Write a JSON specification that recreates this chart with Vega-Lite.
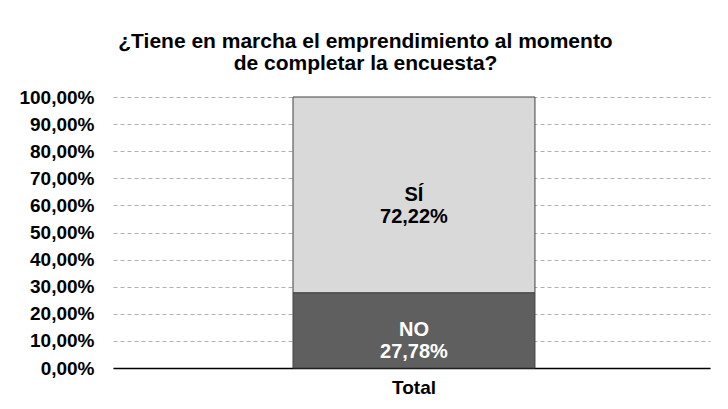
{
  "$schema": "https://vega.github.io/schema/vega-lite/v6.json",
  "width": 597,
  "height": 271,
  "autosize": {"type": "none"},
  "padding": {"left": 113, "top": 97, "right": 18, "bottom": 41},
  "background": "white",
  "title": {
    "text": ["¿Tiene en marcha el emprendimiento al momento", "de completar la encuesta?"],
    "font": "Liberation Sans",
    "fontSize": 21,
    "fontWeight": "bold",
    "color": "#000000",
    "lineHeight": 22,
    "anchor": "middle",
    "dx": -46,
    "offset": 14
  },
  "data": {
    "values": [
      {"x": "Total", "cat": "NO", "value": 0.2778},
      {"x": "Total", "cat": "SÍ", "value": 0.7222}
    ]
  },
  "encoding": {
    "x": {
      "field": "x",
      "type": "nominal",
      "title": null,
      "scale": {"paddingInner": 0.2, "paddingOuter": 0.587, "align": 0.507},
      "axis": {
        "labelAngle": 0,
        "labelFont": "Liberation Sans",
        "labelFontSize": 19,
        "labelFontWeight": "bold",
        "labelColor": "#000000",
        "labelPadding": 10,
        "ticks": false,
        "domainColor": "#000000",
        "domainWidth": 1.5
      }
    }
  },
  "layer": [
    {
      "mark": {"type": "bar", "stroke": "#404040", "strokeWidth": 1},
      "encoding": {
        "y": {
          "field": "value",
          "type": "quantitative",
          "stack": "zero",
          "title": null,
          "scale": {"domain": [0, 1]},
          "axis": {
            "values": [0, 0.1, 0.2, 0.3, 0.4, 0.5, 0.6, 0.7, 0.8, 0.9, 1],
            "labelExpr": "replace(format(datum.value, '.2%'), '.', ',')",
            "labelFont": "Liberation Sans",
            "labelFontSize": 19,
            "labelFontWeight": "bold",
            "labelColor": "#000000",
            "labelPadding": 19,
            "labelOverlap": false,
            "ticks": false,
            "domain": false,
            "grid": true,
            "gridColor": "#b0b0b0",
            "gridDash": [4, 3],
            "gridWidth": 1
          }
        },
        "color": {
          "field": "cat",
          "type": "nominal",
          "scale": {"domain": ["NO", "SÍ"], "range": ["#5f5f5f", "#d9d9d9"]},
          "legend": null
        },
        "order": {"field": "cat", "sort": "ascending"}
      }
    },
    {
      "transform": [
        {"stack": "value", "groupby": ["x"], "sort": [{"field": "cat", "order": "ascending"}], "as": ["v0", "v1"]},
        {"calculate": "(datum.v0 + datum.v1) / 2", "as": "mid"},
        {"calculate": "[datum.cat, replace(format(datum.value, '.2%'), '.', ',')]", "as": "label"}
      ],
      "mark": {
        "type": "text",
        "font": "Liberation Sans",
        "fontSize": 20,
        "fontWeight": "bold",
        "lineHeight": 22,
        "baseline": "middle",
        "align": "center"
      },
      "encoding": {
        "y": {
          "field": "mid",
          "type": "quantitative",
          "title": null,
          "axis": {
            "values": [0, 0.1, 0.2, 0.3, 0.4, 0.5, 0.6, 0.7, 0.8, 0.9, 1],
            "labelExpr": "replace(format(datum.value, '.2%'), '.', ',')",
            "labelFont": "Liberation Sans",
            "labelFontSize": 19,
            "labelFontWeight": "bold",
            "labelColor": "#000000",
            "labelPadding": 19,
            "labelOverlap": false,
            "ticks": false,
            "domain": false,
            "grid": true,
            "gridColor": "#b0b0b0",
            "gridDash": [4, 3],
            "gridWidth": 1
          }
        },
        "text": {"field": "label"},
        "color": {
          "condition": {"test": "datum.cat === 'NO'", "value": "#ffffff"},
          "value": "#000000"
        }
      }
    }
  ],
  "config": {
    "view": {"stroke": null}
  }
}
